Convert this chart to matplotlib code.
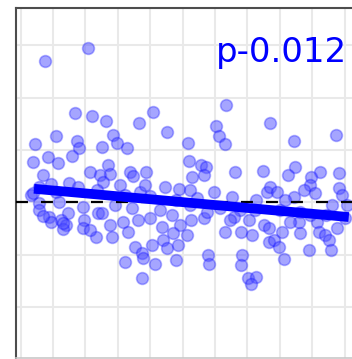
import numpy as np
import matplotlib
matplotlib.use("Agg")
import matplotlib.pyplot as plt

# residuals (x = sample position, y = residual)
x_vals = [
    7.5, 20.8, 16.8, 22.0, 26.3, 36.5, 40.8, 45.1, 10.9, 4.4,
    17.4, 18.0, 28.5, 29.7, 32.8, 25.1, 15.8, 8.4, 11.5, 3.8,
    6.9, 21.4, 26.9, 24.5, 33.7, 34.7, 38.7, 27.6, 63.4, 60.3,
    61.2, 63.0, 51.6, 76.9, 84.3, 97.3, 51.9, 55.6, 57.2, 66.1,
    74.8, 84.6, 82.5, 92.4, 89.6, 98.2, 56.6, 52.9, 89.3, 9.4,
    5.6, 14.9, 17.7, 3.2, 10.9, 30.6, 44.5, 48.9, 25.4, 59.7,
    65.2, 54.4, 72.6, 76.0, 76.9, 79.1, 84.3, 87.4, 90.8, 98.2,
    99.2, 23.5, 36.8, 39.9, 5.6, 11.8, 19.2, 5.6, 14.6, 23.9,
    34.3, 25.1, 46.7, 96.1, 100.7, 52.2, 61.5, 80.0, 86.2, 43.0,
    67.7, 29.1, 8.7, 12.4, 14.0, 13.1, 9.4, 19.5, 19.2, 23.2,
    36.2, 31.6, 39.9, 43.6, 49.2, 27.6, 28.2, 47.0, 43.9, 40.5,
    35.3, 52.6, 56.6, 63.0, 68.0, 71.4, 65.8, 70.5, 75.1, 76.6,
    51.3, 76.6, 80.6, 78.2, 79.7, 86.2, 85.9, 91.4, 92.1, 93.9,
    95.1, 97.6, 21.4, 33.1, 37.4, 37.7, 45.1, 48.5, 32.2, 41.4,
    47.9, 37.4, 57.8, 58.1, 68.3, 68.0, 70.1, 72.6, 71.1, 81.3,
    89.0, 95.8, 47.9, 57.5, 64.6, 83.1, 89.3, 94.2, 100.1, 38.4,
    81.6, 72.3, 32.2, 52.2, 6.9, 3.8, 13.1,
]
y_vals = [
    27.0, 29.5, 17.1, 16.5, 15.6, 15.2, 17.3, 13.5, 12.7, 11.2,
    11.7, 10.4, 12.9, 11.4, 10.4, 10.6, 8.9, 8.7, 7.5, 7.7,
    5.2, 5.8, 7.2, 5.2, 5.8, 5.1, 5.8, 5.4, 18.6, 14.6,
    12.7, 11.2, 11.4, 15.2, 11.7, 12.9, 7.9, 7.2, 6.8, 5.8,
    6.0, 6.8, 5.2, 5.8, 4.9, 5.6, 5.2, 4.9, 3.3, 3.5,
    3.0, 3.7, 3.0, 1.4, 2.0, 3.3, 3.0, 2.6, 3.9, 2.0,
    1.0, 0.9, 0.5, 2.0, 3.0, 2.0, 1.0, 2.4, 1.8, 2.8,
    1.4, 2.4, 2.0, 1.2, -0.1, 0.1, -0.9, -1.4, -2.0, -2.0,
    -1.0, -2.0, -2.4, -0.5, -0.5, -0.5, -1.0, -1.4, -1.8, -1.4,
    -1.4, -0.5, -2.8, -3.3, -4.3, -5.1, -3.7, -3.3, -4.9, -6.6,
    -3.3, -3.7, -3.0, -4.7, -4.3, -4.3, -6.6, -5.8, -7.2, -8.1,
    -8.5, -3.3, -3.0, -5.6, -5.6, -6.2, -2.8, -3.3, -4.3, -7.5,
    -6.2, -4.9, -5.6, -7.2, -8.5, -5.8, -3.7, -3.7, -5.6, -6.2,
    -7.2, -4.9, -5.2, -5.6, -9.6, -10.6, -8.7, -8.1, -11.4, -11.7,
    -11.0, -14.4, -10.0, -11.7, -10.0, -11.9, -14.4, -14.2, -15.6, -10.8,
    -9.1, -9.1, 0.5, -1.8, -3.3, -3.7, -2.4, -2.4, -3.0, 3.3,
    0.5, -1.4, 1.4, 2.4, -2.6, 1.8, -3.9,
]

# fitted trend line (end points)
fit_x = [4.1, 101.3]
fit_y = [2.6, -2.8]

p_label = "p-0.012"

fig = plt.figure(figsize=(3.52, 3.59), dpi=100)
ax = fig.add_axes([16 / 352, 1 / 359, 336 / 352, 350 / 359])

ax.set_xlim(-1.45, 102.3)
ax.set_ylim(-29.7, 37.1)
ax.set_xticks(np.arange(0, 101, 10))
ax.set_yticks(np.arange(-20, 31, 10))
ax.tick_params(length=0, labelbottom=False, labelleft=False)
ax.grid(True, color="#e9e9e9", linewidth=1.5)
ax.set_axisbelow(True)

ax.spines["right"].set_visible(False)
ax.spines["left"].set_color("#4d4d4d")
ax.spines["left"].set_linewidth(1.5)
ax.spines["top"].set_color("#4d4d4d")
ax.spines["top"].set_linewidth(1.5)
ax.spines["bottom"].set_color("#c8c8c8")
ax.spines["bottom"].set_linewidth(1.2)

# soft round markers with a slightly darker rim
ax.scatter(x_vals, y_vals, s=72, marker="o", facecolor=(0.3, 0.3, 1.0, 0.5),
           edgecolor=(0.0, 0.0, 1.0, 0.3), linewidths=1.2, zorder=3)

plt.rcParams["lines.scale_dashes"] = False
ax.axhline(0, color="black", linewidth=1.6, dashes=(8.6, 9.4), zorder=4)
ax.plot(fit_x, fit_y, color="blue", linewidth=7, solid_capstyle="butt", zorder=5)

fig.text(347 / 352, 1 - 62 / 359, p_label, ha="right", va="baseline",
         fontsize=24.5, color="blue", family="DejaVu Sans")

fig.savefig("out.png", dpi=100)
